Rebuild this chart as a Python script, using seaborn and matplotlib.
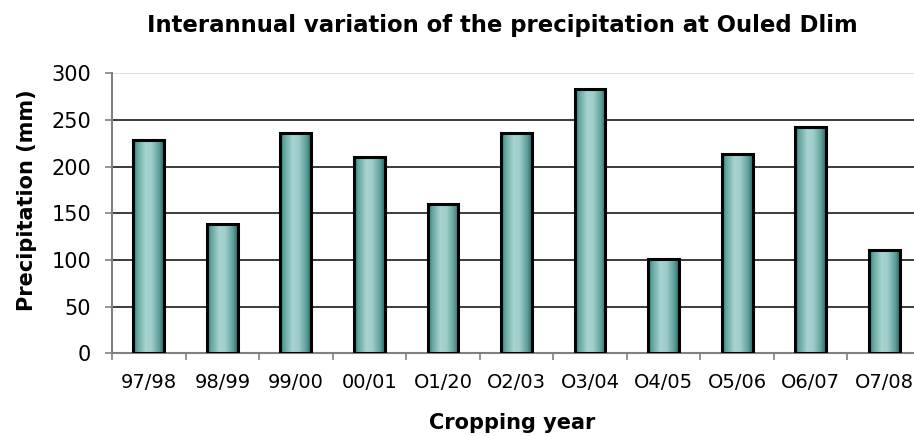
import numpy as np
import pandas as pd
import seaborn as sns
import matplotlib
matplotlib.use("Agg")
import matplotlib.pyplot as plt
from matplotlib.colors import LinearSegmentedColormap

years = ["97/98", "98/99", "99/00", "00/01", "O1/20", "O2/03",
         "O3/04", "O4/05", "O5/06", "O6/07", "O7/08"]
precip = [228, 138, 236, 210, 160, 236, 283, 101, 213, 242, 111]
yticks = [0, 50, 100, 150, 200, 250, 300]

title = "Interannual variation of the precipitation at Ouled Dlim"
xlabel = "Cropping year"
ylabel = "Precipitation (mm)"

sns.set_theme(style="white")
plt.rcParams['font.family'] = ['DejaVu Sans']
plt.rcParams['text.color'] = 'black'
plt.rcParams['axes.labelcolor'] = 'black'
plt.rcParams['xtick.color'] = 'black'
plt.rcParams['ytick.color'] = 'black'

W, H = 914, 436
fig = plt.figure(figsize=(W / 100, H / 100), dpi=100)
fig.patch.set_facecolor("white")
ax = fig.add_axes([112 / W, (H - 353.3) / H, 809 / W, 280 / H])
ax.set_facecolor("white")

df = pd.DataFrame({"year": years, "precip": precip})
sns.barplot(data=df, x="year", y="precip", ax=ax, width=0.42,
            color="#6fb0ac", edgecolor="black", linewidth=2.2,
            zorder=3, saturation=1)

cmap = LinearSegmentedColormap.from_list(
    "teal", [(0.0, "#226d6a"), (0.12, "#5ea29e"), (0.4, "#a7d3d0"),
             (0.6, "#9fcdca"), (0.85, "#5e9f9b"), (1.0, "#1f6a67")])
grad = np.linspace(0, 1, 256).reshape(1, -1)
for p in list(ax.patches):
    x0, y0 = p.get_x(), p.get_y()
    w, h = p.get_width(), p.get_height()
    p.set_facecolor("none")
    im = ax.imshow(grad, cmap=cmap, aspect="auto",
                   extent=[x0, x0 + w, y0, y0 + h], zorder=2.9,
                   interpolation="bilinear")
    im.set_clip_path(p)

ax.set_xlim(-0.5, 10.5)
ax.set_ylim(0, 300)
ax.set_yticks(yticks)
ax.set_yticklabels([str(v) for v in yticks])

ax.yaxis.grid(True, color="#1a1a1a", linewidth=1.2, zorder=1)
ax.set_axisbelow(True)
gl = ax.get_ygridlines()
gl[-1].set_color("#d9d9d9")
gl[0].set_visible(False)

for s in ["top", "right"]:
    ax.spines[s].set_visible(False)
for s in ["left", "bottom"]:
    ax.spines[s].set_color("#808080")
    ax.spines[s].set_linewidth(1.5)

ax.set_xticks(np.arange(-0.5, 11, 1), minor=True)
ax.tick_params(axis="x", which="minor", length=5, width=1.2, color="#808080",
               direction="out", bottom=True)
ax.tick_params(axis="x", which="major", length=0, pad=14, labelsize=14,
               labelcolor="black")
ax.tick_params(axis="y", which="major", length=5, width=1.2, color="#808080",
               direction="out", left=True, pad=10, labelsize=15,
               labelcolor="black")

ax.set_xlabel("")
ax.set_ylabel("")
fig.text(502.5 / W, 1 - 31.7 / H, title, ha="center", va="baseline",
         fontsize=16.4, fontweight="bold")
fig.text(512 / W, 1 - 429.3 / H, xlabel, ha="center", va="baseline",
         fontsize=15, fontweight="bold")
fig.text(33 / W, 1 - 200 / H, ylabel, ha="center", va="baseline",
         rotation=90, rotation_mode="anchor", fontsize=15, fontweight="bold")

fig.savefig("out.png", dpi=100)
